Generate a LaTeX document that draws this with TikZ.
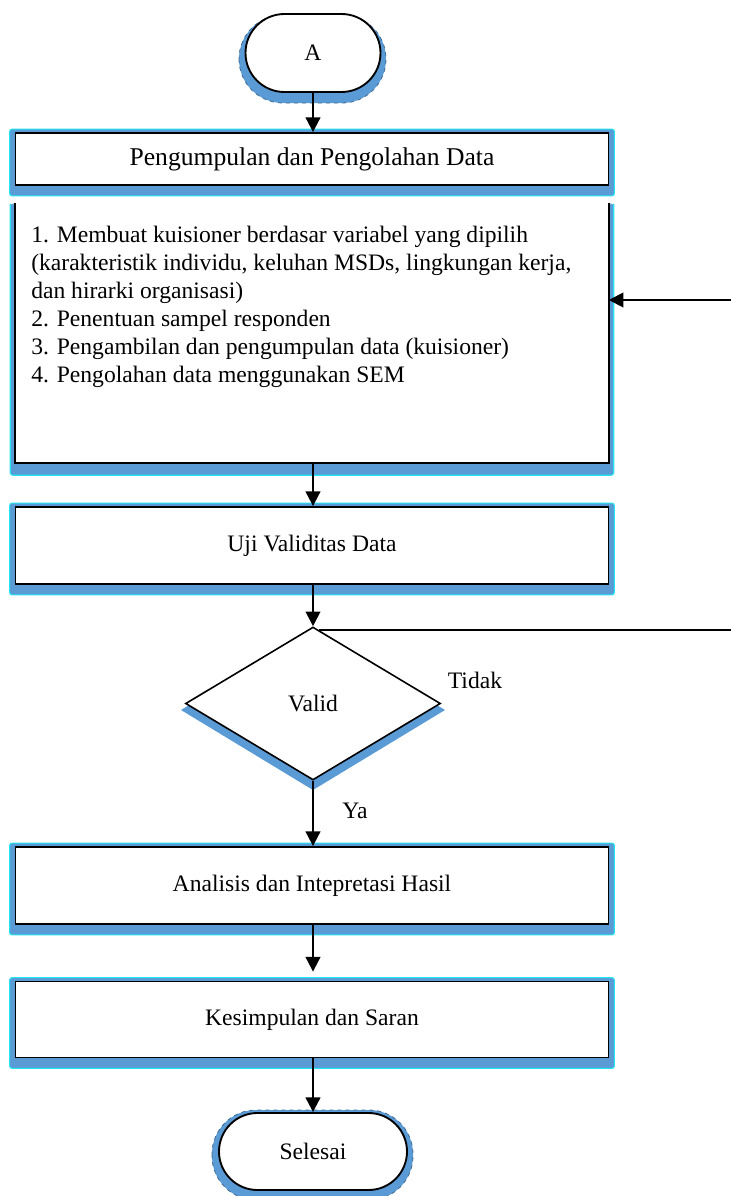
\documentclass[tikz,border=0pt]{standalone}
\usepackage{fontspec}
\setmainfont{Liberation Serif}
\usetikzlibrary{shapes.geometric,shapes.misc,arrows.meta,backgrounds}
\definecolor{shadowblue}{HTML}{5B9BD5}
\definecolor{edgecyan}{HTML}{22E4F2}
\begin{document}
\begin{tikzpicture}[x=0.75pt,y=-0.75pt,
  every node/.style={font=\fontsize{17.7pt}{21pt}\selectfont},
  procbox/.style={draw=black,line width=1.4pt,fill=white,minimum width=444.75pt,inner sep=0pt},
  termbox/.style={draw=black,line width=1.4pt,fill=white,rounded rectangle,inner sep=0pt},
  decbox/.style={draw=black,line width=1.2pt,fill=white,diamond,inner sep=0pt,minimum width=191.25pt,minimum height=114.75pt},
  shadowrect/.style={fill=shadowblue,draw=edgecyan,line width=0.8pt,rounded corners=2pt},
  shadowterm/.style={fill=shadowblue,draw=shadowblue!70!black,line width=0.6pt,dashed},
  conn/.style={line width=1.5pt,-{Triangle[length=11pt,width=11pt]}},
  plainline/.style={line width=1.4pt},
  lbl/.style={inner sep=0pt}
]
\useasboundingbox (0,0) rectangle (731,1196);

% shadows
\fill[shadowterm,rounded corners=33pt] (239,15) rectangle (386,103);
\fill[shadowterm,rounded corners=33pt] (212,1110) rectangle (413,1200);
\fill[shadowblue] (313,630) -- (445,710) -- (313,790) -- (181,710) -- cycle;

% nodes
\node[termbox,minimum width=101.25pt,minimum height=58.5pt] (A) at (313,53) {A};
\node[procbox,minimum height=39pt,font=\fontsize{19.2pt}{22pt}\selectfont] (b1) at (312,159) {Pengumpulan dan Pengolahan Data};
\node[minimum width=444.75pt,minimum height=195pt,inner sep=0pt] (big) at (312,333) {};
\node[lbl,anchor=north west,align=left] (list) at (31,226) {1. Membuat kuisioner berdasar variabel yang dipilih\\(karakteristik individu, keluhan MSDs, lingkungan kerja,\\dan hirarki organisasi)\\2. Penentuan sampel responden\\3. Pengambilan dan pengumpulan data (kuisioner)\\4. Pengolahan data menggunakan SEM};
\node[procbox,minimum height=57.75pt] (b2) at (312,545.5) {Uji Validitas Data};
\node[decbox] (valid) at (313,703.5) {Valid};
\node[procbox,minimum height=57.75pt] (b3) at (312,885.5) {Analisis dan Intepretasi Hasil};
\node[procbox,minimum height=57pt] (b4) at (312,1019.5) {Kesimpulan dan Saran};
\node[termbox,minimum width=141pt,minimum height=57.75pt] (end) at (313,1151.5) {Selesai};
\node[lbl] (tidak) at (475,680) {Tidak};
\node[lbl] (ya) at (355,811) {Ya};

\coordinate (vt) at ([shift={(6,4)}]valid.north);
\coordinate (rtop) at (731,631);
\coordinate (rin) at (731,300);

\begin{scope}[on background layer]
  \foreach \n in {b1,b2,b3,b4}
    \draw[shadowrect] ([shift={(-5,-3)}]\n.north west) rectangle ([shift={(5,10)}]\n.south east);
  \fill[shadowblue,rounded corners=2pt] ([shift={(-5,1)}]big.north west) rectangle ([shift={(5,12)}]big.south east);
  \draw[edgecyan,line width=0.8pt,rounded corners=2pt] ([shift={(-5,1)}]big.north west) -- ([shift={(-5,12)}]big.south west) -- ([shift={(5,12)}]big.south east) -- ([shift={(5,1)}]big.north east);
  \fill[white] (big.north west) rectangle (big.south east);
\end{scope}

% open-top big box
\draw[plainline] (big.north west) -- (big.south west) -- (big.south east) -- (big.north east);

% connectors
\draw[conn] (A.south) -- (A.south |- b1.north);
\draw[conn] (A.south |- big.south) -- (A.south |- b2.north);
\draw[conn] (A.south |- b2.south) -- (valid.north);
\draw[conn] (valid.south) -- (valid.south |- b3.north);
\draw[conn,shorten >=6.75pt] (valid.south |- b3.south) -- (valid.south |- b4.north);
\draw[conn] (end.north |- b4.south) -- (end.north);
\draw[plainline] (vt) -- (vt -| rtop);
\draw[conn] (rin) -- (rin -| big.east);
\end{tikzpicture}
\end{document}
